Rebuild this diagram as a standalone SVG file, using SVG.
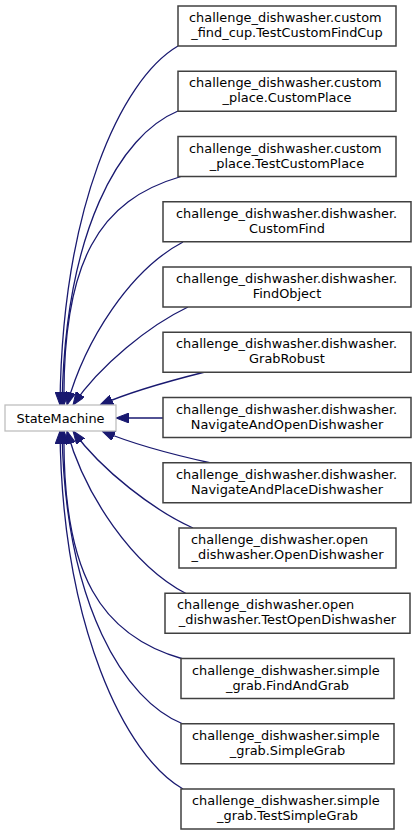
<svg xmlns="http://www.w3.org/2000/svg" width="416" height="836" viewBox="0 0 416 836">
<style>
.n rect{fill:#fff;stroke:#404040;stroke-width:1.5}
.root rect{fill:#fff;stroke:#bfbfbf;stroke-width:1.3}
text{font-family:"DejaVu Sans",sans-serif;font-size:12.9px;fill:#000}
.m{text-anchor:middle}
.e path{fill:none;stroke:#191970;stroke-width:1.3;marker-end:url(#ah)}
</style>
<defs>
<marker id="ah" viewBox="0 0 13 10" refX="13" refY="5" markerWidth="13" markerHeight="10" markerUnits="userSpaceOnUse" orient="auto">
<path d="M0,0 L13,5 L0,10 Z" fill="#191970" stroke="#191970" stroke-width="1"/>
</marker>
</defs>
<rect width="416" height="836" fill="#fff"/>
<g id="connectors" class="e">
<path d="M178,46 C120,80 62,210 60,405"/>
<path d="M178,111 C120,135 65,230 62,405"/>
<path d="M181,176.5 C100,200 62,260 64,405"/>
<path d="M183,242 C130,270 85,340 67,405"/>
<path d="M188,307 C150,325 100,365 73,405"/>
<path d="M205,372 C165,382 125,394 100,405"/>
<path d="M163,418 L116,418"/>
<path d="M211,463 C170,454 128,442 102,431"/>
<path d="M193,528 C155,511 102,471 73,431"/>
<path d="M186,593.5 C133,566 85,496 67,431"/>
<path d="M183,659 C102,636 62,576 64,431"/>
<path d="M183,724 C125,701 65,606 62,431"/>
<path d="M183,789 C125,756 62,626 60,431"/>
</g>
<g id="StateMachine" class="root">
<rect x="5" y="405" width="111" height="26"/>
<text class="m" x="60.5" y="422.5">StateMachine</text>
</g>
<g id="TestCustomFindCup" class="n">
<rect x="178" y="6" width="218" height="40"/>
<text x="189" y="22">challenge_dishwasher.custom</text>
<text class="m" x="287" y="37">_find_cup.TestCustomFindCup</text>
</g>
<g id="CustomPlace" class="n">
<rect x="178" y="71.25" width="218" height="40"/>
<text x="189" y="87.25">challenge_dishwasher.custom</text>
<text class="m" x="287" y="102.25">_place.CustomPlace</text>
</g>
<g id="TestCustomPlace" class="n">
<rect x="178" y="136.5" width="218" height="40"/>
<text x="189" y="152.5">challenge_dishwasher.custom</text>
<text class="m" x="287" y="167.5">_place.TestCustomPlace</text>
</g>
<g id="CustomFind" class="n">
<rect x="163" y="201.75" width="248" height="40"/>
<text x="176" y="217.75">challenge_dishwasher.dishwasher.</text>
<text class="m" x="287" y="232.75">CustomFind</text>
</g>
<g id="FindObject" class="n">
<rect x="163" y="267" width="248" height="40"/>
<text x="176" y="283">challenge_dishwasher.dishwasher.</text>
<text class="m" x="287" y="298">FindObject</text>
</g>
<g id="GrabRobust" class="n">
<rect x="163" y="332.25" width="248" height="40"/>
<text x="176" y="348.25">challenge_dishwasher.dishwasher.</text>
<text class="m" x="287" y="363.25">GrabRobust</text>
</g>
<g id="NavigateAndOpenDishwasher" class="n">
<rect x="163" y="397.5" width="248" height="40"/>
<text x="176" y="413.5">challenge_dishwasher.dishwasher.</text>
<text class="m" x="287" y="428.5">NavigateAndOpenDishwasher</text>
</g>
<g id="NavigateAndPlaceDishwasher" class="n">
<rect x="163" y="462.75" width="248" height="40"/>
<text x="176" y="478.75">challenge_dishwasher.dishwasher.</text>
<text class="m" x="287" y="493.75">NavigateAndPlaceDishwasher</text>
</g>
<g id="OpenDishwasher" class="n">
<rect x="179" y="528" width="217" height="40"/>
<text x="191" y="544">challenge_dishwasher.open</text>
<text class="m" x="287.5" y="559">_dishwasher.OpenDishwasher</text>
</g>
<g id="TestOpenDishwasher" class="n">
<rect x="165" y="593.25" width="245" height="40"/>
<text x="177" y="609.25">challenge_dishwasher.open</text>
<text class="m" x="287.5" y="624.25">_dishwasher.TestOpenDishwasher</text>
</g>
<g id="FindAndGrab" class="n">
<rect x="181" y="658.5" width="213" height="40"/>
<text x="192" y="674.5">challenge_dishwasher.simple</text>
<text class="m" x="287.5" y="689.5">_grab.FindAndGrab</text>
</g>
<g id="SimpleGrab" class="n">
<rect x="181" y="723.75" width="213" height="40"/>
<text x="192" y="739.75">challenge_dishwasher.simple</text>
<text class="m" x="287.5" y="754.75">_grab.SimpleGrab</text>
</g>
<g id="TestSimpleGrab" class="n">
<rect x="181" y="789" width="213" height="40"/>
<text x="192" y="805">challenge_dishwasher.simple</text>
<text class="m" x="287.5" y="820">_grab.TestSimpleGrab</text>
</g>
</svg>
